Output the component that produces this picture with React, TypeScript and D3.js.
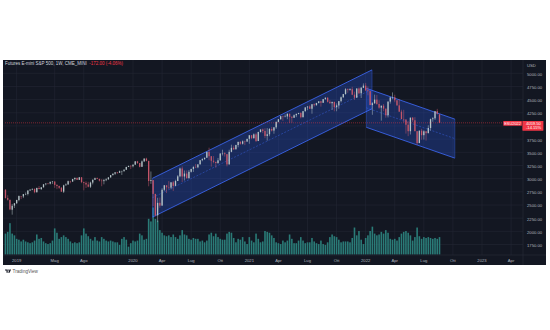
import React from "react";
import * as d3 from "d3";

// ---------- DATA ----------
const firstWeek = "2018-11-26";

// weekly [open, high, low, close]
const bars2018: number[][] = [
  [2660, 2760, 2640, 2758], [2790, 2800, 2621, 2633], [2630, 2685, 2583, 2600],
  [2598, 2601, 2400, 2416], [2410, 2520, 2316, 2485], [2490, 2538, 2443, 2532],
];
const bars2019: number[][] = [
  [2532, 2597, 2524, 2596], [2594, 2681, 2570, 2670], [2668, 2672, 2612, 2664], [2662, 2709, 2631, 2707],
  [2706, 2738, 2687, 2708], [2708, 2775, 2681, 2776], [2776, 2795, 2766, 2793], [2793, 2816, 2780, 2805],
  [2805, 2816, 2722, 2743], [2743, 2830, 2735, 2823], [2823, 2860, 2800, 2802], [2802, 2836, 2785, 2836],
  [2836, 2894, 2830, 2893], [2893, 2911, 2873, 2908], [2908, 2916, 2890, 2906], [2906, 2940, 2890, 2941], [2941, 2955, 2900, 2946],
  [2946, 2946, 2825, 2882], [2882, 2891, 2800, 2860], [2860, 2868, 2805, 2827], [2827, 2841, 2750, 2753],
  [2753, 2885, 2728, 2874], [2874, 2910, 2869, 2889], [2889, 2964, 2887, 2952], [2952, 2959, 2912, 2944],
  [2944, 2996, 2944, 2992], [2992, 3018, 2966, 3016], [3016, 3018, 2973, 2978], [2978, 3029, 2976, 3026], [3026, 3029, 2914, 2934],
  [2934, 2945, 2778, 2919], [2919, 2950, 2822, 2889], [2889, 2940, 2834, 2847], [2847, 2943, 2822, 2926],
  [2926, 2985, 2891, 2979], [2979, 3021, 2975, 3009], [3009, 3022, 2990, 2994], [2994, 3002, 2946, 2962], [2962, 2992, 2856, 2953],
  [2953, 2993, 2892, 2971], [2971, 3008, 2952, 2987], [2987, 3027, 2980, 3024], [3024, 3067, 3018, 3067],
  [3067, 3098, 3060, 3094], [3094, 3121, 3071, 3121], [3121, 3127, 3091, 3111], [3111, 3154, 3108, 3142],
  [3142, 3148, 3070, 3147], [3147, 3176, 3126, 3170], [3170, 3226, 3165, 3222], [3222, 3248, 3220, 3241], [3241, 3259, 3182, 3236],
];
const bars2020: number[][] = [
  [3236, 3267, 3214, 3266], [3266, 3329, 3260, 3329], [3329, 3338, 3280, 3296], [3296, 3296, 3214, 3225],
  [3225, 3347, 3225, 3328], [3328, 3385, 3315, 3381], [3381, 3397, 3328, 3338], [3338, 3338, 2855, 2955],
  [2955, 3136, 2901, 2972], [2972, 2972, 2478, 2711], [2711, 2711, 2281, 2304], [2304, 2637, 2174, 2541], [2541, 2641, 2447, 2488],
  [2488, 2818, 2488, 2789], [2789, 2879, 2761, 2874], [2874, 2874, 2727, 2836], [2836, 2954, 2800, 2830],
  [2830, 2932, 2797, 2930], [2930, 2954, 2766, 2863], [2863, 2980, 2863, 2955], [2955, 3068, 2955, 3044],
  [3044, 3211, 3025, 3193], [3193, 3233, 2936, 3041], [3041, 3155, 2965, 3097], [3097, 3155, 3000, 3009], [3009, 3165, 3000, 3130],
  [3130, 3186, 3115, 3185], [3185, 3233, 3128, 3224], [3224, 3280, 3200, 3215], [3215, 3272, 3198, 3271],
  [3271, 3352, 3271, 3351], [3351, 3387, 3330, 3372], [3372, 3399, 3354, 3397], [3397, 3509, 3397, 3508], [3508, 3588, 3350, 3426],
  [3426, 3426, 3229, 3340], [3340, 3428, 3292, 3319], [3319, 3320, 3209, 3298], [3298, 3393, 3280, 3348],
  [3348, 3482, 3340, 3477], [3477, 3549, 3441, 3483], [3483, 3502, 3419, 3465], [3465, 3465, 3233, 3270],
  [3270, 3549, 3270, 3509], [3509, 3645, 3500, 3585], [3585, 3628, 3543, 3557], [3557, 3644, 3557, 3638], [3638, 3699, 3594, 3699],
  [3699, 3712, 3645, 3663], [3663, 3726, 3647, 3709], [3709, 3723, 3636, 3703], [3703, 3756, 3703, 3756],
];
const bars2021: number[][] = [
  [3756, 3826, 3662, 3824], [3824, 3830, 3749, 3768], [3768, 3859, 3760, 3841], [3841, 3870, 3694, 3714],
  [3714, 3891, 3714, 3886], [3886, 3934, 3875, 3934], [3934, 3951, 3864, 3906], [3906, 3958, 3768, 3811],
  [3811, 3960, 3723, 3842], [3842, 3960, 3805, 3943], [3943, 3983, 3894, 3913], [3913, 3978, 3853, 3974], [3974, 4086, 3944, 4077],
  [4077, 4130, 4069, 4128], [4128, 4191, 4122, 4185], [4185, 4194, 4097, 4180], [4180, 4218, 4164, 4181],
  [4181, 4238, 4128, 4232], [4232, 4237, 4056, 4173], [4173, 4188, 4061, 4156], [4156, 4220, 4155, 4204], [4204, 4234, 4167, 4230],
  [4230, 4249, 4220, 4247], [4247, 4261, 4144, 4166], [4166, 4286, 4164, 4281], [4281, 4356, 4271, 4352],
  [4352, 4372, 4300, 4370], [4370, 4394, 4321, 4327], [4327, 4415, 4233, 4412], [4412, 4429, 4367, 4395],
  [4395, 4440, 4385, 4437], [4437, 4470, 4427, 4468], [4468, 4478, 4367, 4441], [4441, 4512, 4437, 4509], [4509, 4545, 4500, 4535],
  [4535, 4549, 4445, 4459], [4459, 4492, 4421, 4432], [4432, 4465, 4305, 4455], [4455, 4466, 4278, 4357],
  [4357, 4429, 4279, 4391], [4391, 4475, 4329, 4471], [4471, 4559, 4447, 4544], [4544, 4608, 4537, 4605],
  [4605, 4718, 4596, 4697], [4697, 4714, 4630, 4682], [4682, 4717, 4672, 4698], [4698, 4743, 4585, 4594], [4594, 4652, 4495, 4538],
  [4538, 4713, 4531, 4712], [4712, 4732, 4600, 4620], [4620, 4740, 4531, 4725], [4725, 4808, 4720, 4766],
];
const bars2022: number[][] = [
  [4766, 4818, 4663, 4677], [4677, 4749, 4582, 4662], [4662, 4662, 4395, 4397], [4397, 4453, 4212, 4432], [4432, 4595, 4419, 4500],
  [4500, 4590, 4401, 4418], [4418, 4490, 4327, 4348], [4348, 4385, 4101, 4385], [4385, 4416, 4279, 4329],
  [4329, 4329, 4157, 4204], [4204, 4465, 4162, 4463], [4463, 4546, 4424, 4543], [4543, 4637, 4507, 4546],
  [4546, 4593, 4450, 4488], [4488, 4488, 4382, 4392], [4392, 4512, 4267, 4272], [4272, 4308, 4124, 4132],
  [4132, 4307, 4062, 4123], [4123, 4123, 3855, 4024], [4024, 4090, 3807, 3901], [3901, 4158, 3838, 4158], [4158, 4169, 4073, 4109],
  [4109, 4168, 3900, 3901], [3901, 3901, 3639, 3675], [3675, 3913, 3675, 3911], [3911, 3946, 3740, 3825],
  [3825, 3919, 3742, 3899], [3899, 3899, 3722, 3863], [3863, 4013, 3863, 3962], [3962, 4140, 3910, 4130],
  [4130, 4167, 4080, 4145], [4145, 4280, 4115, 4280], [4280, 4325, 4218, 4231.5], [4220, 4229, 4058, 4059.5],
];

// weekly volume, millions of contracts
const volumes2018 = [11, 12, 13, 18, 12, 11];
const volumes2019 = [
  9, 8.5, 7.5, 8.5, 7.5, 7, 6.5, 7, 8, 11.5, 9, 9.5, 7.5, 6.5, 6, 6.5, 8, 15, 12.5, 9, 10, 11, 10, 9, 7.5,
  6.5, 7, 6.5, 7, 11, 15, 12, 10.5, 9, 8, 10, 8, 7.5, 10, 9, 8, 7.5, 8, 7.5, 7, 7, 5.5, 9, 10, 8.5, 4.5, 6.5,
];
const volumes2020 = [
  8, 7.5, 8, 12, 11, 8.5, 9, 20.5, 19, 27, 20.5, 19.5, 14, 12.5, 11, 10.5, 11, 10, 11.5, 10, 9, 11, 14, 11.5, 11, 9,
  8.5, 9.5, 9, 9, 7.5, 8, 7, 8, 11.5, 12.5, 10.5, 12, 10, 9, 8.5, 8.5, 12, 13, 12.5, 9.5, 7, 9, 8.5, 10, 7.5, 6,
];
const volumes2021 = [
  10, 8, 7, 12, 9, 7, 7.5, 13.5, 13, 12.5, 11, 9.5, 7, 6.5, 6, 8, 7, 8, 11.5, 9, 6.5, 6.5, 8, 10, 8, 6.5,
  7, 7, 9.5, 7.5, 6.5, 6, 8, 6, 5.5, 7, 10, 11.5, 10.5, 10, 8.5, 7, 7.5, 7.5, 7.5, 7, 9.5, 15.5, 11, 13.5, 8.5, 6,
];
const volumes2022 = [
  9.5, 11, 13.5, 16, 12, 11, 11.5, 13, 12, 14, 12.5, 9, 8.5, 9, 8, 10, 12, 13, 13.5, 12.5, 11, 8, 10, 15.5, 10.5, 9,
  10, 9.5, 10, 9.5, 9, 9.5, 9, 10,
];

const priceTicks = [1750, 2000, 2250, 2500, 2750, 3000, 3250, 3500, 3750, 4000, 4250, 4500, 4750, 5000];
const timeTickDates = [
  "2019-01-07", "2019-05-06", "2019-08-05", "2020-01-06", "2020-04-06", "2020-07-06", "2020-10-05",
  "2021-01-04", "2021-04-05", "2021-07-05", "2021-10-04", "2022-01-03", "2022-04-04", "2022-07-04",
  "2022-10-03", "2023-01-02", "2023-04-03",
];
const timeTickLabels = ["2019", "Mag", "Ago", "2020", "Apr", "Lug", "Ott", "2021", "Apr", "Lug", "Ott", "2022", "Apr", "Lug", "Ott", "2023", "Apr"];

// parallel channels: [start date, end date], upper line prices, width in points
const upChannelDates = ["2020-03-07", "2022-01-23"];
const upChannelUpper = [3007, 5065];
const upChannelWidth = 737;
const downChannelDates = ["2022-01-05", "2022-10-09"];
const downChannelUpper = [4715, 4130];
const downChannelWidth = 740;

const lastPrice = 4059.5;
const headerTitle = "Futures E-mini S&P 500, 1W, CME_MINI";
const headerChange = "-172.00 (-4.06%)";
const symbolLabel = "ESU2022";
const priceLabel = "4059.50";
const pctLabel = "-14.15%";

// ---------- CHART ----------
const parse = d3.utcParse("%Y-%m-%d");
const FONT = "'Liberation Sans', Arial, sans-serif";

const BG = "#131722";
const GRID = "#232734";
const AXIS_TXT = "#b2b5be";
const UP = "#b4c2c6";
const DOWN = "#c4566a";
const VOL = "#2a7b77";
const CH_LINE = "#3f6cff";
const CH_FILL = "rgba(41,98,255,0.26)";
const RED = "#f23645";

const panel = { x: 3, y: 60, w: 543, h: 205 };
const plotRight = 523;
const plotBottom = 255;

export default function App() {
  const allBars = [...bars2018, ...bars2019, ...bars2020, ...bars2021, ...bars2022];
  const allVol = [...volumes2018, ...volumes2019, ...volumes2020, ...volumes2021, ...volumes2022];
  const start = parse(firstWeek) as Date;
  const data = allBars.map((b, i) => ({
    date: d3.utcWeek.offset(start, i),
    o: b[0], h: b[1], l: b[2], c: b[3], v: allVol[i],
  }));

  const x = d3.scaleUtc().domain([parse("2020-01-06") as Date, parse("2023-01-02") as Date]).range([133, 482]);
  const y = d3.scaleLinear().domain([1750, 5000]).range([244.5, 73.3]);
  const vy = d3.scaleLinear().domain([0, 27]).range([254.5, 207.5]);

  const channel = (dates: string[], upper: number[], width: number) => {
    const x1 = x(parse(dates[0]) as Date), x2 = x(parse(dates[1]) as Date);
    const u1 = y(upper[0]), u2 = y(upper[1]);
    const l1 = y(upper[0] - width), l2 = y(upper[1] - width);
    const m1 = y(upper[0] - width / 2), m2 = y(upper[1] - width / 2);
    return (
      <g>
        <path d={`M${x1},${u1}L${x2},${u2}L${x2},${l2}L${x1},${l1}Z`} fill={CH_FILL} stroke="none" />
        <line x1={x1} y1={u1} x2={x2} y2={u2} stroke={CH_LINE} strokeWidth={0.8} />
        <line x1={x1} y1={l1} x2={x2} y2={l2} stroke={CH_LINE} strokeWidth={0.8} />
        <line x1={x1} y1={m1} x2={x2} y2={m2} stroke={CH_LINE} strokeWidth={0.5} strokeDasharray="2,1.5" opacity={0.8} />
        <line x1={x1} y1={u1} x2={x1} y2={l1} stroke={CH_LINE} strokeWidth={0.5} opacity={0.7} />
        <line x1={x2} y1={u2} x2={x2} y2={l2} stroke={CH_LINE} strokeWidth={0.5} opacity={0.7} />
      </g>
    );
  };

  const py = y(lastPrice);

  return (
    <svg width={550} height={330} style={{ position: "absolute", left: 0, top: 0, background: "#fff" }} fontFamily={FONT}>
      <defs>
        <clipPath id="plot">
          <rect x={panel.x + 1} y={panel.y} width={plotRight - panel.x - 1} height={plotBottom - panel.y} />
        </clipPath>
      </defs>
      <rect x={panel.x} y={panel.y} width={panel.w} height={panel.h} fill={BG} />

      {/* grid */}
      {priceTicks.map((p) => (
        <line key={"h" + p} x1={panel.x} x2={plotRight} y1={y(p)} y2={y(p)} stroke={GRID} strokeWidth={0.6} />
      ))}
      {timeTickDates.map((d, i) => {
        const xx = x(parse(d) as Date);
        return <line key={"v" + i} x1={xx} x2={xx} y1={panel.y} y2={plotBottom} stroke={GRID} strokeWidth={0.6} />;
      })}

      <g clipPath="url(#plot)">
        {/* volume */}
        {data.map((d, i) => (
          <rect key={"vol" + i} x={x(d.date) - 0.8} width={1.6} y={vy(d.v)} height={vy(0) - vy(d.v)} fill={VOL} />
        ))}
        {/* channels */}
        {channel(upChannelDates, upChannelUpper, upChannelWidth)}
        {channel(downChannelDates, downChannelUpper, downChannelWidth)}
        {/* candles */}
        {data.map((d, i) => {
          const xx = x(d.date);
          const col = d.c >= d.o ? UP : DOWN;
          const top = y(Math.max(d.o, d.c));
          const bot = y(Math.min(d.o, d.c));
          return (
            <g key={"c" + i}>
              <line x1={xx} x2={xx} y1={y(d.h)} y2={y(d.l)} stroke={col} strokeWidth={0.5} />
              <rect x={xx - 0.65} width={1.3} y={top} height={Math.max(0.4, bot - top)} fill={col} />
            </g>
          );
        })}
        {/* last price line */}
        <line x1={panel.x} x2={plotRight} y1={py} y2={py} stroke={RED} strokeWidth={0.6} strokeDasharray="0.8,1.2" />
      </g>

      {/* axis separators */}
      <line x1={plotRight} x2={plotRight} y1={panel.y} y2={panel.y + panel.h} stroke="#2a2e39" strokeWidth={0.6} />
      <line x1={panel.x} x2={panel.x + panel.w} y1={plotBottom} y2={plotBottom} stroke="#2a2e39" strokeWidth={0.6} />

      {/* header */}
      <text x={5} y={65.2} fontSize={4.5} fill="#d1d4dc">
        {headerTitle}
        <tspan fill={RED} dx={2.5}>{headerChange}</tspan>
      </text>

      {/* price axis */}
      <text x={527} y={67.2} fontSize={4.2} fill={AXIS_TXT}>USD</text>
      {priceTicks.map((p) => (
        <text key={"pt" + p} x={527} y={y(p) + 2.5} fontSize={4.2} fill={AXIS_TXT}>
          {d3.format(".2f")(p)}
        </text>
      ))}

      {/* last price labels */}
      <rect x={503.3} y={py - 1.8} width={18.6} height={4.6} fill={RED} rx={0.4} />
      <text x={512.6} y={py + 1.7} fontSize={3.9} fill="#fff" textAnchor="middle">{symbolLabel}</text>
      <rect x={522.4} y={py - 1.8} width={21} height={9.6} fill={RED} rx={0.4} />
      <text x={526} y={py + 1.7} fontSize={4.1} fill="#fff">{priceLabel}</text>
      <text x={526} y={py + 6.5} fontSize={4.1} fill="#fff">{pctLabel}</text>

      {/* time axis */}
      {timeTickDates.map((d, i) => (
        <text key={"tt" + i} x={x(parse(d) as Date)} y={261.6} fontSize={4.2} fill={AXIS_TXT} textAnchor="middle">
          {timeTickLabels[i]}
        </text>
      ))}

      {/* TradingView logo */}
      <g fill="#131722">
        <path d="M5 269.4h2.7v3.4H6.5v-2.2H5z" />
        <circle cx={8.6} cy={270} r={0.6} />
        <path d="M9.5 269.4h1.5l-1.4 3.4H8.2z" />
      </g>
      <text x={12.6} y={272.6} fontSize={4.6} fill="#555">TradingView</text>
    </svg>
  );
}
